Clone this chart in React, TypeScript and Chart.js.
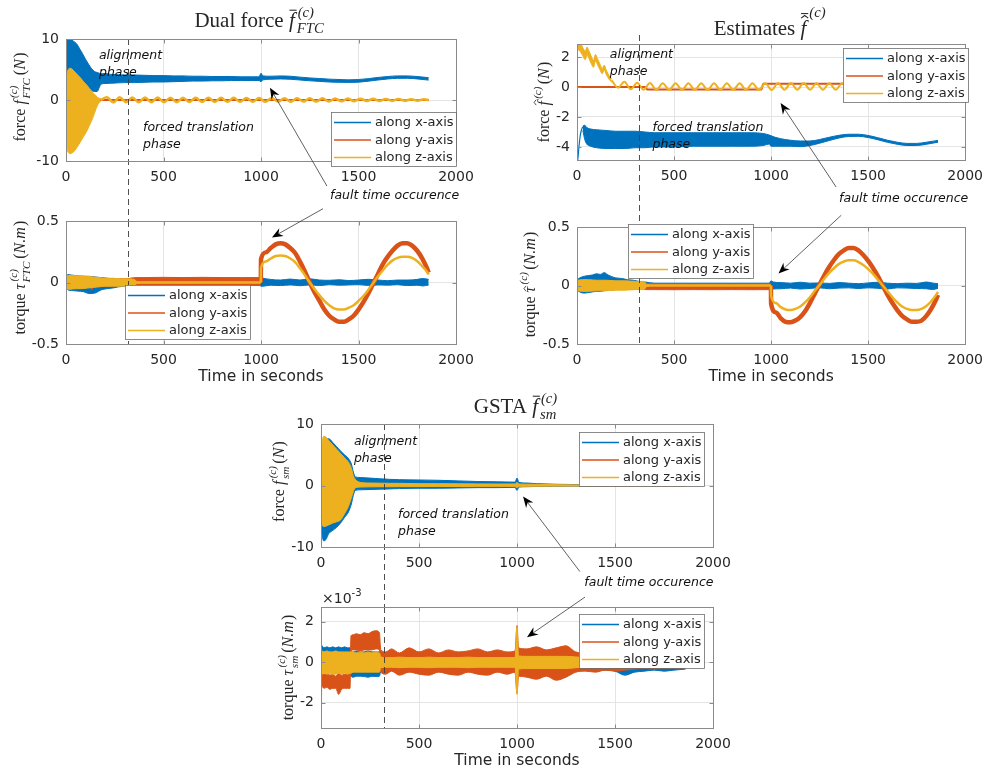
import React, { useEffect, useRef } from "react";
import { Chart, registerables } from "chart.js";

Chart.register(...registerables);

/* ---------------- colours, fonts, page ---------------- */
const BLUE = "#0072BD";
const ORANGE = "#D95319";
const YELLOW = "#EDB120";
const AXIS = "#8a8a8a";
const GRID = "#e4e4e4";
const TEXT = "#262626";
const PAGE_W = 991;
const PAGE_H = 776;
const SANS = '"DejaVu Sans", sans-serif';
const SERIF = '"Liberation Serif", "DejaVu Serif", serif';
const Y_AXIS_W = 45;
const X_AXIS_H = 24;

/* ---------------- shared axis values ---------------- */
const TIME_MIN = 0;
const TIME_MAX = 2000;
const TIME_STEP = 500;
const PHASE_SWITCH_TIME = 320; // end of the alignment phase (s)
const LEGEND_LABELS = ["along x-axis", "along y-axis", "along z-axis"];

/* ---------------- Dual force f_FTC (N) ---------------- */
const ftcForceXTime = [0, 8, 15, 25, 40, 55, 70, 85, 100, 115, 130, 145, 160, 170, 180, 200, 230, 260, 300, 350, 400, 450, 500, 550, 600, 650, 700, 750, 800, 850, 900, 950, 990, 1000, 1010, 1050, 1100, 1150, 1200, 1250, 1300, 1350, 1400, 1450, 1500, 1550, 1600, 1650, 1700, 1750, 1800, 1860];
const ftcForceXHigh = [9.0, 10.5, 10.3, 10.0, 9.6, 9.2, 8.4, 7.6, 6.7, 5.9, 5.2, 4.7, 4.5, 4.4, 4.3, 4.35, 4.2, 4.15, 4.1, 4.1, 4.05, 4.0, 4.0, 3.95, 3.95, 3.9, 3.9, 3.85, 3.85, 3.85, 3.8, 3.8, 3.8, 4.4, 3.95, 3.9, 3.95, 3.9, 3.75, 3.62, 3.52, 3.42, 3.36, 3.3, 3.36, 3.5, 3.7, 3.85, 3.95, 3.95, 3.85, 3.66];
const ftcForceXLow = [1.8, 1.6, 1.5, 1.5, 1.5, 1.5, 1.5, 1.5, 1.5, 1.5, 1.5, 1.4, 1.4, 2.0, 2.6, 2.7, 2.75, 2.8, 2.85, 2.85, 2.9, 2.95, 2.95, 3.0, 3.05, 3.1, 3.1, 3.15, 3.15, 3.2, 3.2, 3.2, 3.2, 3.0, 3.3, 3.4, 3.45, 3.4, 3.28, 3.15, 3.05, 2.95, 2.9, 2.88, 2.92, 3.08, 3.28, 3.45, 3.55, 3.56, 3.46, 3.26];
const ftcForceYTime = [0, 1860];
const ftcForceYValue = [0, 0];
const ftcForceZTime = [0, 5, 12, 20, 30, 45, 60, 75, 90, 105, 120, 135, 150, 160, 170, 178];
const ftcForceZHigh = [0.5, 4.0, 5.0, 5.2, 5.1, 4.6, 4.1, 3.6, 3.0, 2.5, 1.9, 1.3, 0.8, 0.5, 0.3, 0.3];
const ftcForceZLow = [-0.5, -7.5, -8.6, -8.8, -8.7, -8.3, -7.6, -6.8, -6.0, -5.2, -4.2, -3.1, -1.8, -1.0, -0.4, -0.3];
const ftcForceZWaveTime = [178, 210, 243, 275, 308, 340, 373, 405, 438, 470, 503, 535, 568, 600, 633, 665, 698, 730, 763, 795, 828, 860, 893, 925, 958, 990, 1023, 1055, 1088, 1120, 1153, 1185, 1218, 1250, 1283, 1315, 1348, 1380, 1413, 1445, 1478, 1510, 1543, 1575, 1608, 1640, 1673, 1705, 1738, 1770, 1803, 1835, 1860];
const ftcForceZWave = [0.0, 0.45, -0.4, 0.45, -0.35, 0.42, -0.35, 0.4, -0.35, 0.4, -0.35, 0.38, -0.35, 0.38, -0.32, 0.36, -0.32, 0.36, -0.32, 0.35, -0.3, 0.35, -0.3, 0.34, -0.3, 0.32, -0.3, 0.32, -0.28, 0.3, -0.28, 0.3, -0.26, 0.28, -0.25, 0.27, -0.24, 0.25, -0.22, 0.24, -0.2, 0.22, -0.18, 0.2, -0.16, 0.18, -0.15, 0.16, -0.14, 0.14, -0.12, 0.12, 0.0];

/* ---------------- torque after the fault: shared sample times (s) ---------------- */
const faultTime = [999, 1000, 1025, 1050, 1075, 1100, 1125, 1150, 1175, 1200, 1225, 1250, 1275, 1300, 1325, 1350, 1375, 1400, 1425, 1450, 1475, 1500, 1525, 1550, 1575, 1600, 1625, 1650, 1675, 1700, 1725, 1750, 1775, 1800, 1825, 1850, 1860];

/* ---------------- Dual torque tau_FTC (N.m) ---------------- */
const ftcTorqueXTime = [0, 10, 30, 60, 90, 120, 150, 180, 210, 240, 270, 300, 330, 360, 400, 500, 600, 700, 800, 900, 990, 1000, 1010, 1050, 1100, 1150, 1200, 1250, 1300, 1350, 1400, 1450, 1500, 1550, 1600, 1650, 1700, 1750, 1800, 1830, 1860];
const ftcTorqueXHigh = [0.05, 0.065, 0.06, 0.055, 0.05, 0.05, 0.045, 0.04, 0.035, 0.03, 0.03, 0.025, 0.02, 0.02, 0.02, 0.02, 0.02, 0.02, 0.02, 0.02, 0.02, 0.04, 0.035, 0.025, 0.02, 0.028, 0.02, 0.03, 0.02, 0.018, 0.022, 0.016, 0.02, 0.026, 0.02, 0.015, 0.02, 0.02, 0.025, 0.032, 0.025];
const ftcTorqueXLow = [-0.04, -0.06, -0.065, -0.07, -0.075, -0.09, -0.085, -0.06, -0.05, -0.045, -0.035, -0.03, -0.025, -0.02, -0.02, -0.02, -0.02, -0.02, -0.02, -0.02, -0.02, -0.03, -0.03, -0.022, -0.025, -0.02, -0.026, -0.02, -0.025, -0.018, -0.022, -0.02, -0.018, -0.024, -0.02, -0.022, -0.018, -0.025, -0.022, -0.028, -0.02];
const ftcTorqueYTime = [0, 50, 100, 125, 132, 140, 200, 300, 360, 400, 500, 600, 700, 800, 900, 999];
const ftcTorqueYHigh = [0.03, 0.03, 0.03, 0.03, 0.03, 0.03, 0.03, 0.03, 0.04, 0.04, 0.042, 0.04, 0.042, 0.04, 0.04, 0.04];
const ftcTorqueYLow = [-0.03, -0.03, -0.03, -0.03, -0.06, -0.03, -0.03, -0.025, -0.025, -0.025, -0.024, -0.025, -0.024, -0.025, -0.024, -0.024];
const ftcTorqueYFault = [0.0, 0.19, 0.245, 0.28, 0.31, 0.32, 0.31, 0.28, 0.24, 0.17, 0.09, 0.0, -0.08, -0.15, -0.22, -0.27, -0.3, -0.32, -0.32, -0.3, -0.27, -0.22, -0.16, -0.09, -0.01, 0.07, 0.15, 0.21, 0.26, 0.3, 0.32, 0.32, 0.3, 0.26, 0.2, 0.12, 0.08];
const ftcTorqueZTime = [0, 20, 50, 80, 110, 140, 170, 200, 240, 280, 320, 350, 365, 400, 600, 800, 999];
const ftcTorqueZHigh = [0.05, 0.06, 0.055, 0.055, 0.05, 0.045, 0.04, 0.035, 0.035, 0.03, 0.03, 0.025, 0.008, 0.006, 0.006, 0.006, 0.006];
const ftcTorqueZLow = [-0.05, -0.055, -0.05, -0.05, -0.045, -0.04, -0.035, -0.03, -0.03, -0.03, -0.028, -0.025, -0.008, -0.006, -0.006, -0.006, -0.006];
const ftcTorqueZFault = [0.0, 0.12, 0.17, 0.195, 0.215, 0.22, 0.215, 0.195, 0.165, 0.115, 0.06, 0.0, -0.055, -0.105, -0.15, -0.185, -0.21, -0.22, -0.22, -0.205, -0.185, -0.15, -0.11, -0.06, -0.005, 0.05, 0.1, 0.145, 0.18, 0.2, 0.21, 0.21, 0.2, 0.175, 0.135, 0.09, 0.065];

/* ---------------- Estimated force f^ (N) ---------------- */
const estForceXDropTime = [0, 1, 3, 6, 10, 15, 22, 30];
const estForceXDrop = [0, -2.5, -4.9, -4.6, -4.0, -3.4, -2.9, -2.65];
const estForceXTime = [30, 40, 50, 70, 100, 150, 200, 250, 300, 350, 400, 500, 600, 700, 800, 900, 960, 990, 1000, 1020, 1050, 1100, 1150, 1200, 1250, 1300, 1350, 1400, 1450, 1500, 1550, 1600, 1650, 1700, 1750, 1800, 1860];
const estForceXHigh = [-2.6, -2.55, -2.7, -2.8, -2.85, -2.9, -2.95, -2.95, -2.95, -3.0, -3.05, -3.05, -3.05, -3.05, -3.05, -3.05, -3.1, -3.2, -3.25, -3.35, -3.45, -3.55, -3.6, -3.6, -3.5, -3.35, -3.22, -3.15, -3.15, -3.23, -3.38, -3.55, -3.68, -3.76, -3.76, -3.68, -3.56];
const estForceXLow = [-2.9, -3.5, -3.8, -3.95, -4.05, -4.1, -4.1, -4.1, -4.05, -4.05, -4.0, -4.0, -3.95, -3.95, -3.95, -3.95, -3.9, -3.8, -3.95, -3.95, -3.95, -3.95, -3.98, -3.9, -3.75, -3.57, -3.4, -3.3, -3.29, -3.37, -3.52, -3.69, -3.82, -3.9, -3.9, -3.82, -3.68];
const estForceYTime = [0, 352, 362, 950, 960, 1860];
const estForceY = [0, 0, -0.17, -0.17, 0.22, 0.22];
const estForceZTime = [0, 3, 10, 20, 30, 42, 52, 60, 72, 85, 95, 105, 118, 130, 140, 150, 160, 170, 178];
const estForceZHigh = [2.9, 3.1, 3.05, 2.9, 2.62, 2.38, 2.66, 2.45, 2.1, 1.78, 2.17, 1.9, 1.54, 1.22, 1.46, 1.15, 0.88, 0.67, 0.55];
const estForceZLow = [0.0, 2.5, 2.45, 2.3, 2.08, 1.82, 2.14, 1.95, 1.6, 1.32, 1.73, 1.5, 1.16, 0.88, 1.14, 0.85, 0.62, 0.43, 0.35];
const estForceZWaveTime = [178, 211, 244, 277, 310, 343, 376, 409, 442, 475, 508, 541, 574, 607, 640, 673, 706, 739, 772, 805, 838, 871, 904, 937, 970, 1003, 1036, 1069, 1102, 1135, 1168, 1201, 1234, 1267, 1300, 1333, 1366, 1399, 1432, 1465, 1498, 1531, 1564, 1597, 1630, 1663, 1696, 1729, 1762, 1795, 1828, 1860];
const estForceZWave = [0.45, -0.05, 0.35, -0.15, 0.28, -0.18, 0.26, -0.2, 0.25, -0.2, 0.25, -0.2, 0.25, -0.2, 0.25, -0.2, 0.25, -0.2, 0.25, -0.2, 0.25, -0.2, 0.25, -0.2, 0.25, -0.2, 0.26, -0.18, 0.26, -0.18, 0.26, -0.18, 0.25, -0.18, 0.25, -0.18, 0.25, -0.18, 0.24, -0.18, 0.24, -0.18, 0.24, -0.18, 0.24, -0.18, 0.24, -0.18, 0.24, -0.18, 0.24, -0.18];

/* ---------------- Estimated torque tau^ (N.m) ---------------- */
const estTorqueXTime = [0, 20, 40, 60, 80, 100, 120, 140, 160, 180, 200, 230, 260, 290, 320, 350, 400, 500, 600, 700, 800, 900, 990, 1000, 1010, 1050, 1100, 1150, 1200, 1250, 1300, 1350, 1400, 1450, 1500, 1550, 1600, 1650, 1700, 1750, 1800, 1830, 1860];
const estTorqueXHigh = [0.05, 0.07, 0.08, 0.085, 0.09, 0.1, 0.095, 0.11, 0.09, 0.075, 0.065, 0.06, 0.05, 0.045, 0.035, 0.03, 0.02, 0.02, 0.02, 0.02, 0.02, 0.02, 0.02, 0.04, 0.03, 0.025, 0.02, 0.028, 0.02, 0.022, 0.018, 0.025, 0.02, 0.016, 0.022, 0.028, 0.02, 0.016, 0.02, 0.018, 0.03, 0.022, 0.015];
const estTorqueXLow = [-0.04, -0.06, -0.065, -0.06, -0.055, -0.05, -0.05, -0.045, -0.04, -0.04, -0.035, -0.035, -0.03, -0.03, -0.025, -0.025, -0.02, -0.02, -0.02, -0.02, -0.02, -0.02, -0.02, -0.035, -0.03, -0.028, -0.022, -0.03, -0.025, -0.02, -0.028, -0.022, -0.02, -0.026, -0.02, -0.024, -0.03, -0.02, -0.022, -0.026, -0.028, -0.034, -0.025];
const estTorqueYTime = [0, 100, 200, 300, 360, 400, 500, 600, 700, 800, 900, 999];
const estTorqueYHigh = [0.03, 0.03, 0.03, 0.025, 0.018, 0.015, 0.016, 0.015, 0.016, 0.015, 0.016, 0.015];
const estTorqueYLow = [-0.03, -0.03, -0.03, -0.03, -0.035, -0.035, -0.036, -0.035, -0.036, -0.035, -0.036, -0.035];
const estTorqueYFault = [0.0, -0.155, -0.23, -0.28, -0.31, -0.315, -0.3, -0.27, -0.22, -0.15, -0.07, 0.01, 0.09, 0.16, 0.22, 0.27, 0.3, 0.32, 0.32, 0.3, 0.26, 0.21, 0.15, 0.08, 0.0, -0.08, -0.15, -0.21, -0.26, -0.29, -0.31, -0.31, -0.3, -0.26, -0.2, -0.12, -0.08];
const estTorqueZTime = [0, 30, 60, 100, 150, 200, 250, 300, 345, 360, 400, 600, 800, 999];
const estTorqueZHigh = [0.045, 0.05, 0.05, 0.045, 0.045, 0.04, 0.04, 0.035, 0.035, 0.008, 0.006, 0.006, 0.006, 0.006];
const estTorqueZLow = [-0.045, -0.05, -0.05, -0.045, -0.045, -0.04, -0.04, -0.035, -0.035, -0.008, -0.006, -0.006, -0.006, -0.006];
const estTorqueZFault = [0.0, -0.09, -0.15, -0.185, -0.205, -0.21, -0.2, -0.18, -0.145, -0.1, -0.045, 0.005, 0.06, 0.11, 0.15, 0.185, 0.205, 0.215, 0.215, 0.2, 0.175, 0.14, 0.1, 0.05, 0.0, -0.05, -0.1, -0.145, -0.18, -0.2, -0.21, -0.21, -0.2, -0.175, -0.135, -0.08, -0.055];

/* ---------------- GSTA force f_sm (N) ---------------- */
const gstaForceTime = [0, 3, 8, 15, 25, 40, 60, 80, 100, 120, 140, 155, 165, 175, 200, 250, 300, 350, 400, 500, 600, 700, 800, 900, 990, 1000, 1010, 1050, 1100, 1200, 1300, 1400, 1500, 1600, 1700, 1860];
const gstaForceXHigh = [3.0, 6.0, 6.7, 7.0, 7.6, 7.6, 7.0, 6.3, 5.6, 5.0, 4.4, 3.5, 2.2, 1.4, 1.3, 1.2, 1.1, 1.0, 0.95, 0.9, 0.85, 0.75, 0.65, 0.6, 0.55, 1.2, 0.5, 0.4, 0.3, 0.2, 0.15, 0.1, 0.08, 0.06, 0.05, 0.04];
const gstaForceXLow = [0.0, -6.0, -8.5, -9.0, -8.8, -7.8, -7.3, -6.8, -6.1, -5.2, -4.3, -3.0, -1.6, -0.8, -0.7, -0.65, -0.6, -0.55, -0.5, -0.45, -0.45, -0.4, -0.35, -0.35, -0.3, -0.8, -0.25, -0.2, -0.15, -0.12, -0.1, -0.08, -0.06, -0.05, -0.04, -0.03];
const gstaForceYTime = [0, 1860];
const gstaForceY = [0, 0];
const gstaForceZHigh = [2.0, 5.5, 7.5, 8.0, 7.9, 7.3, 6.6, 5.9, 5.2, 4.5, 3.8, 2.8, 1.6, 1.0, 0.5, 0.4, 0.38, 0.35, 0.35, 0.3, 0.3, 0.28, 0.26, 0.25, 0.25, 0.5, 0.25, 0.22, 0.18, 0.14, 0.1, 0.08, 0.06, 0.05, 0.04, 0.03];
const gstaForceZLow = [-2.0, -5.0, -6.5, -6.7, -6.6, -6.4, -6.1, -5.9, -5.6, -4.6, -3.4, -2.0, -1.0, -0.4, -0.25, -0.22, -0.2, -0.2, -0.18, -0.18, -0.16, -0.16, -0.14, -0.14, -0.14, -0.4, -0.14, -0.13, -0.11, -0.1, -0.08, -0.06, -0.05, -0.04, -0.03, -0.03];

/* ---------------- GSTA torque tau_sm (values in 10^-3 N.m) ---------------- */
const GSTA_TORQUE_UNIT = 1e-3;
const gstaTorqueTime = [0, 2, 5, 15, 30, 45, 60, 75, 90, 105, 120, 135, 148, 153, 165, 180, 200, 220, 240, 260, 280, 298, 305, 330, 360, 400, 450, 500, 550, 600, 650, 700, 750, 800, 850, 900, 950, 990, 1000, 1008, 1050, 1100, 1150, 1200, 1250, 1300, 1350, 1400, 1450, 1500, 1550, 1600, 1650, 1700, 1750, 1800, 1860];
const gstaTorqueXHigh = [0.7, 0.75, 0.8, 0.7, 0.75, 0.7, 0.75, 0.7, 0.75, 0.7, 0.75, 0.7, 0.7, 0.55, 0.5, 0.55, 0.5, 0.5, 0.55, 0.5, 0.5, 0.5, 0.45, 0.4, 0.4, 0.4, 0.4, 0.4, 0.4, 0.4, 0.4, 0.4, 0.4, 0.4, 0.4, 0.4, 0.4, 0.4, 0.5, 0.4, 0.4, 0.4, 0.4, 0.4, 0.4, 0.35, 0.3, 0.3, 0.3, 0.3, 0.3, 0.25, 0.25, 0.25, 0.25, 0.25, 0.25];
const gstaTorqueXLow = [-0.5, -0.5, -0.5, -0.5, -0.5, -0.5, -0.5, -0.5, -0.5, -0.5, -0.5, -0.5, -0.5, -0.7, -0.75, -0.7, -0.7, -0.72, -0.75, -0.7, -0.72, -0.7, -0.45, -0.4, -0.4, -0.4, -0.4, -0.4, -0.4, -0.4, -0.4, -0.4, -0.4, -0.4, -0.4, -0.4, -0.4, -0.4, -0.5, -0.4, -0.4, -0.4, -0.4, -0.4, -0.4, -0.4, -0.4, -0.4, -0.4, -0.45, -0.65, -0.5, -0.45, -0.4, -0.45, -0.4, -0.35];
const gstaTorqueYSpikeTime = [0, 0.5, 1.5, 3, 5];
const gstaTorqueYSpike = [0, 2.72, -3.26, -0.6, -1.0];
const gstaTorqueYHigh = [-0.5, -0.5, -0.55, -0.6, -0.5, -0.65, -0.6, -0.7, -0.55, -0.65, -0.6, -0.55, -0.6, 1.3, 1.35, 1.4, 1.35, 1.45, 1.4, 1.5, 1.55, 1.45, 0.6, 0.5, 0.65, 0.45, 0.7, 0.5, 0.65, 0.45, 0.6, 0.5, 0.55, 0.65, 0.5, 0.6, 0.5, 0.55, 1.8, 0.7, 0.65, 0.75, 0.6, 0.7, 0.8, 0.5, 0.45, 0.55, 0.4, 0.45, 0.4, 0.35, 0.4, 0.35, 0.3, 0.35, 0.3];
const gstaTorqueYLow = [-1.2, -1.3, -1.2, -1.3, -1.25, -1.35, -1.3, -1.3, -1.6, -1.35, -1.3, -1.3, -1.3, 0.55, 0.6, 0.6, 0.55, 0.6, 0.6, 0.6, 0.65, 0.6, -0.5, -0.6, -0.45, -0.65, -0.5, -0.6, -0.65, -0.5, -0.6, -0.65, -0.5, -0.6, -0.65, -0.5, -0.6, -0.5, -1.55, -0.7, -0.75, -0.85, -0.7, -0.9, -0.75, -0.5, -0.45, -0.5, -0.4, -0.45, -0.4, -0.35, -0.3, -0.35, -0.3, -0.3, -0.3];
const gstaTorqueZHigh = [0.5, 0.5, 0.55, 0.5, 0.55, 0.5, 0.5, 0.55, 0.5, 0.5, 0.5, 0.5, 0.5, 0.5, 0.5, 0.45, 0.5, 0.45, 0.5, 0.45, 0.5, 0.45, 0.25, 0.22, 0.22, 0.24, 0.22, 0.22, 0.24, 0.22, 0.22, 0.22, 0.24, 0.22, 0.22, 0.22, 0.22, 0.22, 1.75, 0.3, 0.28, 0.28, 0.28, 0.28, 0.28, 0.25, 0.22, 0.22, 0.22, 0.22, 0.2, 0.2, 0.2, 0.2, 0.2, 0.2, 0.2];
const gstaTorqueZLow = [-0.6, -0.6, -0.6, -0.55, -0.6, -0.55, -0.6, -0.6, -0.55, -0.6, -0.55, -0.6, -0.55, -0.55, -0.5, -0.5, -0.5, -0.5, -0.5, -0.5, -0.5, -0.5, -0.28, -0.26, -0.26, -0.28, -0.26, -0.26, -0.28, -0.26, -0.26, -0.26, -0.28, -0.26, -0.26, -0.26, -0.26, -0.26, -1.6, -0.35, -0.32, -0.32, -0.32, -0.32, -0.32, -0.28, -0.25, -0.25, -0.25, -0.25, -0.24, -0.22, -0.22, -0.22, -0.22, -0.22, -0.22];

/* ---------------- series model ---------------- */
type Band = { kind: "band"; t: number[]; hi: number[]; lo: number[] };
type Trace = { kind: "line"; t: number[]; v: number[]; width: number };
type Seg = Band | Trace;
type Series = { color: string; layer: number; segs: Seg[] };

const band = (t: number[], hi: number[], lo: number[]): Band => ({ kind: "band", t, hi, lo });
const trace = (t: number[], v: number[], width: number): Trace => ({ kind: "line", t, v, width });

type Piece =
  | { s: string; it?: boolean; acc?: "bar" | "hat" | "barhat"; accY?: number }
  | { sup: string; sub?: string; raise?: number };

type PanelSpec = {
  area: { left: number; top: number; right: number; bottom: number };
  yMin: number;
  yMax: number;
  yStep: number;
  unit?: number;
  series: Series[];
  title?: { pieces: Piece[]; size: number; gap: number };
  yLabel: { pieces: Piece[]; dx: number; dy: number };
  xTitle?: boolean;
  exponent?: string;
  legend: { dx: number; dy: number };
  notes: { t: number; v: number; lines: string[] }[];
  arrows: { from: [number, number]; to: [number, number] }[];
  fault?: { t: number; v: number };
  dashAbove: number;
  dashBelow: number;
};

/* ---------------- rich (math-like) text ---------------- */
function serifFont(size: number, italic = false) {
  return `${italic ? "italic " : ""}${size}px ${SERIF}`;
}

function drawAccent(ctx: CanvasRenderingContext2D, kind: string, x: number, y: number, w: number, size: number, accY: number) {
  const mid = x + w * 0.55;
  const half = size * 0.17;
  ctx.lineWidth = Math.max(0.8, size * 0.05);
  let top = y - size * accY;
  if (kind === "hat" || kind === "barhat") {
    ctx.beginPath();
    ctx.moveTo(mid - half, top);
    ctx.lineTo(mid, top - size * 0.13);
    ctx.lineTo(mid + half, top);
    ctx.stroke();
    top -= size * 0.22;
  }
  if (kind === "bar" || kind === "barhat") {
    ctx.beginPath();
    ctx.moveTo(mid - half, top);
    ctx.lineTo(mid + half, top);
    ctx.stroke();
  }
}

function drawRich(ctx: CanvasRenderingContext2D, pieces: Piece[], size: number, x: number, y: number) {
  const small = size * 0.7;
  const widths = pieces.map((p) => {
    if ("s" in p) {
      ctx.font = serifFont(size, p.it);
      return ctx.measureText(p.s).width + (p.it ? size * 0.08 : 0);
    }
    ctx.font = serifFont(small, true);
    const w = Math.max(ctx.measureText(p.sup).width, p.sub ? ctx.measureText(p.sub).width : 0);
    return w + size * 0.2;
  });
  const total = widths.reduce((a, b) => a + b, 0);
  let cx = x - total / 2;
  ctx.fillStyle = TEXT;
  ctx.strokeStyle = TEXT;
  ctx.textAlign = "left";
  ctx.textBaseline = "alphabetic";
  pieces.forEach((p, i) => {
    if ("s" in p) {
      ctx.font = serifFont(size, p.it);
      ctx.fillText(p.s, cx, y);
      if (p.acc) drawAccent(ctx, p.acc, cx, y, widths[i], size, p.accY ?? 0.8);
    } else {
      ctx.font = serifFont(small, true);
      ctx.fillText(p.sup, cx + size * 0.06, y - size * (p.raise ?? 0.5));
      if (p.sub) ctx.fillText(p.sub, cx + size * 0.02, y + size * 0.3);
    }
    cx += widths[i];
  });
}

function drawArrow(ctx: CanvasRenderingContext2D, x1: number, y1: number, x2: number, y2: number) {
  const ang = Math.atan2(y2 - y1, x2 - x1);
  const c = Math.cos(ang);
  const s = Math.sin(ang);
  const len = 11;
  const half = 4.5;
  const notch = 7.5;
  ctx.strokeStyle = "#3a3a3a";
  ctx.lineWidth = 0.8;
  ctx.beginPath();
  ctx.moveTo(x1, y1);
  ctx.lineTo(x2 - notch * c, y2 - notch * s);
  ctx.stroke();
  const bx = x2 - len * c;
  const by = y2 - len * s;
  ctx.fillStyle = "#000";
  ctx.beginPath();
  ctx.moveTo(x2, y2);
  ctx.lineTo(bx - half * s, by + half * c);
  ctx.lineTo(x2 - notch * c, y2 - notch * s);
  ctx.lineTo(bx + half * s, by - half * c);
  ctx.closePath();
  ctx.fill();
}

/* ---------------- per-panel decorations ---------------- */
function decorPlugin(p: PanelSpec) {
  return {
    id: "panelDecor",
    afterDraw(chart: any) {
      const ctx: CanvasRenderingContext2D = chart.ctx;
      const a = chart.chartArea;
      const xs = chart.scales.x;
      const ys = chart.scales.y;
      const k = p.unit ?? 1;
      const px = (t: number) => xs.getPixelForValue(t);
      const py = (v: number) => ys.getPixelForValue(v * k);
      const L = Math.round(a.left) + 0.5;
      const R = Math.round(a.right) + 0.5;
      const T = Math.round(a.top) + 0.5;
      const B = Math.round(a.bottom) + 0.5;
      ctx.save();

      // phase switch marker
      const xd = Math.round(px(PHASE_SWITCH_TIME)) + 0.5;
      ctx.strokeStyle = "#3c3c3c";
      ctx.lineWidth = 0.9;
      ctx.setLineDash([6, 4]);
      ctx.beginPath();
      ctx.moveTo(xd, a.top - p.dashAbove);
      ctx.lineTo(xd, a.bottom + p.dashBelow);
      ctx.stroke();
      ctx.setLineDash([]);

      // axes box and inward tick marks
      ctx.strokeStyle = AXIS;
      ctx.lineWidth = 1;
      ctx.strokeRect(L, T, R - L, B - T);
      ctx.beginPath();
      for (const tk of xs.ticks) {
        const x = Math.round(xs.getPixelForValue(tk.value)) + 0.5;
        ctx.moveTo(x, B);
        ctx.lineTo(x, B - 4);
        ctx.moveTo(x, T);
        ctx.lineTo(x, T + 4);
      }
      for (const tk of ys.ticks) {
        const y = Math.round(ys.getPixelForValue(tk.value)) + 0.5;
        ctx.moveTo(L, y);
        ctx.lineTo(L + 4, y);
        ctx.moveTo(R, y);
        ctx.lineTo(R - 4, y);
      }
      ctx.stroke();

      // legend
      const lx = Math.round(a.left + p.legend.dx);
      const ly = Math.round(a.top + p.legend.dy);
      const lw = 125;
      const lh = 54;
      ctx.fillStyle = "#fff";
      ctx.fillRect(lx, ly, lw, lh);
      ctx.strokeStyle = "#6e6e6e";
      ctx.lineWidth = 0.8;
      ctx.strokeRect(lx + 0.5, ly + 0.5, lw, lh);
      ctx.font = `13px ${SANS}`;
      ctx.textAlign = "left";
      ctx.textBaseline = "middle";
      p.series.forEach((s, i) => {
        const ry = ly + 10.5 + i * 17.5;
        ctx.strokeStyle = s.color;
        ctx.lineWidth = 1.5;
        ctx.beginPath();
        ctx.moveTo(lx + 3, ry);
        ctx.lineTo(lx + 40, ry);
        ctx.stroke();
        ctx.fillStyle = TEXT;
        ctx.fillText(LEGEND_LABELS[i], lx + 44, ry + 0.5);
      });

      // phase notes
      ctx.font = `italic 12.5px ${SANS}`;
      ctx.fillStyle = "#111";
      ctx.textAlign = "left";
      ctx.textBaseline = "middle";
      for (const n of p.notes) {
        n.lines.forEach((line, i) => ctx.fillText(line, px(n.t), py(n.v) + i * 17));
      }

      // fault annotation
      if (p.fault) {
        ctx.textAlign = "center";
        ctx.fillText("fault time occurence", px(p.fault.t), py(p.fault.v));
      }
      for (const ar of p.arrows) {
        drawArrow(ctx, px(ar.from[0]), py(ar.from[1]), px(ar.to[0]), py(ar.to[1]));
      }

      // title
      if (p.title) {
        drawRich(ctx, p.title.pieces, p.title.size, (a.left + a.right) / 2, a.top - p.title.gap);
      }

      // y label
      ctx.save();
      ctx.translate(a.left + p.yLabel.dx, (a.top + a.bottom) / 2 + p.yLabel.dy);
      ctx.rotate(-Math.PI / 2);
      drawRich(ctx, p.yLabel.pieces, 16, 0, 0);
      ctx.restore();

      // x label
      if (p.xTitle) {
        ctx.font = `15.5px ${SANS}`;
        ctx.fillStyle = TEXT;
        ctx.textAlign = "center";
        ctx.textBaseline = "middle";
        ctx.fillText("Time in seconds", (a.left + a.right) / 2, a.bottom + 33);
      }

      // exponent of the tick values
      if (p.exponent) {
        ctx.fillStyle = TEXT;
        ctx.textAlign = "left";
        ctx.textBaseline = "alphabetic";
        ctx.font = `14px ${SANS}`;
        const base = "\u00d710";
        ctx.fillText(base, a.left + 1, a.top - 4);
        const bw = ctx.measureText(base).width;
        ctx.font = `10px ${SANS}`;
        ctx.fillText(p.exponent, a.left + 1 + bw, a.top - 11);
      }
      ctx.restore();
    },
  };
}

function buildDatasets(series: Series[], k: number) {
  const out: any[] = [];
  const pts = (t: number[], v: number[]) => t.map((x, i) => ({ x, y: v[i] * k }));
  for (const s of series) {
    for (const seg of s.segs) {
      if (seg.kind === "band") {
        out.push({ data: pts(seg.t, seg.lo), borderColor: s.color, borderWidth: 1, pointRadius: 0, fill: false, order: s.layer, cubicInterpolationMode: "monotone" });
        out.push({ data: pts(seg.t, seg.hi), borderColor: s.color, backgroundColor: s.color, borderWidth: 1, pointRadius: 0, fill: "-1", order: s.layer, cubicInterpolationMode: "monotone" });
      } else {
        out.push({ data: pts(seg.t, seg.v), borderColor: s.color, borderWidth: seg.width, pointRadius: 0, fill: false, order: s.layer, cubicInterpolationMode: "monotone" });
      }
    }
  }
  return out;
}

function makeConfig(p: PanelSpec): any {
  const k = p.unit ?? 1;
  const tickFont = { family: SANS, size: 14 };
  return {
    type: "line",
    data: { datasets: buildDatasets(p.series, k) },
    options: {
      responsive: false,
      animation: false,
      devicePixelRatio: 1,
      events: [],
      layout: {
        padding: {
          left: p.area.left - Y_AXIS_W,
          right: PAGE_W - p.area.right,
          top: p.area.top,
          bottom: PAGE_H - p.area.bottom - X_AXIS_H,
        },
      },
      plugins: { legend: { display: false }, tooltip: { enabled: false } },
      scales: {
        x: {
          type: "linear",
          min: TIME_MIN,
          max: TIME_MAX,
          afterFit: (s: any) => {
            s.height = X_AXIS_H;
          },
          ticks: {
            stepSize: TIME_STEP,
            autoSkip: false,
            maxRotation: 0,
            includeBounds: false,
            padding: 8,
            color: TEXT,
            font: tickFont,
            callback: (v: number) => String(v),
          },
          grid: { color: GRID, drawTicks: false, lineWidth: 1 },
          border: { display: false },
        },
        y: {
          type: "linear",
          min: p.yMin * k,
          max: p.yMax * k,
          afterFit: (s: any) => {
            s.width = Y_AXIS_W;
          },
          ticks: {
            stepSize: p.yStep * k,
            autoSkip: false,
            includeBounds: false,
            padding: 7,
            color: TEXT,
            font: tickFont,
            callback: (v: number) => String(Math.round((v / k) * 1000) / 1000),
          },
          grid: { color: GRID, drawTicks: false, lineWidth: 1 },
          border: { display: false },
        },
      },
    },
    plugins: [decorPlugin(p)],
  };
}

/* ---------------- panels ---------------- */
const xyz = (x: Seg[], y: Seg[], z: Seg[]): Series[] => [
  { color: BLUE, layer: 2, segs: x },
  { color: ORANGE, layer: 1, segs: y },
  { color: YELLOW, layer: 0, segs: z },
];

const PANELS: PanelSpec[] = [
  {
    area: { left: 66, top: 39, right: 456, bottom: 161 },
    yMin: -10,
    yMax: 10,
    yStep: 10,
    series: xyz(
      [band(ftcForceXTime, ftcForceXHigh, ftcForceXLow)],
      [trace(ftcForceYTime, ftcForceYValue, 2)],
      [band(ftcForceZTime, ftcForceZHigh, ftcForceZLow), trace(ftcForceZWaveTime, ftcForceZWave, 2.5)]
    ),
    title: { pieces: [{ s: "Dual force " }, { s: "f", it: true, acc: "bar" }, { sup: "(c)", sub: "FTC" }], size: 21, gap: 12 },
    yLabel: { pieces: [{ s: "force " }, { s: "f", it: true }, { sup: "(c)", sub: "FTC" }, { s: "(" }, { s: "N", it: true }, { s: ")" }], dx: -41, dy: -3 },
    legend: { dx: 264.5, dy: 72.5 },
    notes: [
      { t: 169, v: 7.2, lines: ["alignment", "phase"] },
      { t: 395, v: -4.6, lines: ["forced translation", "phase"] },
    ],
    arrows: [{ from: [1338, -14.1], to: [1046, 2.0] }],
    fault: { t: 1685, v: -15.7 },
    dashAbove: 0,
    dashBelow: 60,
  },
  {
    area: { left: 66, top: 221, right: 456, bottom: 344 },
    yMin: -0.5,
    yMax: 0.5,
    yStep: 0.5,
    series: xyz(
      [band(ftcTorqueXTime, ftcTorqueXHigh, ftcTorqueXLow)],
      [band(ftcTorqueYTime, ftcTorqueYHigh, ftcTorqueYLow), trace(faultTime, ftcTorqueYFault, 4.5)],
      [band(ftcTorqueZTime, ftcTorqueZHigh, ftcTorqueZLow), trace(faultTime, ftcTorqueZFault, 2.5)]
    ),
    yLabel: { pieces: [{ s: "torque " }, { s: "\u03c4", it: true }, { sup: "(c)", sub: "FTC" }, { s: "(" }, { s: "N.m", it: true }, { s: ")" }], dx: -41, dy: -5 },
    xTitle: true,
    legend: { dx: 59, dy: 64 },
    notes: [],
    arrows: [{ from: [1318, 0.6], to: [1056, 0.366] }],
    dashAbove: 0,
    dashBelow: 0,
  },
  {
    area: { left: 577, top: 44, right: 968, bottom: 160 },
    yMin: -4.867,
    yMax: 2.867,
    yStep: 2,
    series: xyz(
      [trace(estForceXDropTime, estForceXDrop, 1.2), band(estForceXTime, estForceXHigh, estForceXLow)],
      [trace(estForceYTime, estForceY, 2)],
      [band(estForceZTime, estForceZHigh, estForceZLow), trace(estForceZWaveTime, estForceZWave, 2)]
    ),
    title: { pieces: [{ s: "Estimates " }, { s: "f", it: true, acc: "barhat" }, { sup: "(c)", raise: 0.85 }], size: 21, gap: 9 },
    yLabel: { pieces: [{ s: "force " }, { s: "f", it: true, acc: "hat" }, { sup: "(c)" }, { s: "(" }, { s: "N", it: true }, { s: ")" }], dx: -28, dy: 0 },
    legend: { dx: 266, dy: 4 },
    notes: [
      { t: 169, v: 2.13, lines: ["alignment", "phase"] },
      { t: 389, v: -2.73, lines: ["forced translation", "phase"] },
    ],
    arrows: [{ from: [1335, -6.67], to: [1049, -1.07] }],
    fault: { t: 1683, v: -7.47 },
    dashAbove: 9,
    dashBelow: 67,
  },
  {
    area: { left: 577, top: 227, right: 968, bottom: 344 },
    yMin: -0.5,
    yMax: 0.5,
    yStep: 0.5,
    series: xyz(
      [band(estTorqueXTime, estTorqueXHigh, estTorqueXLow)],
      [band(estTorqueYTime, estTorqueYHigh, estTorqueYLow), trace(faultTime, estTorqueYFault, 4.5)],
      [band(estTorqueZTime, estTorqueZHigh, estTorqueZLow), trace(faultTime, estTorqueZFault, 2.5)]
    ),
    yLabel: { pieces: [{ s: "torque " }, { s: "\u03c4", it: true, acc: "hat", accY: 0.56 }, { sup: "(c)" }, { s: "(" }, { s: "N.m", it: true }, { s: ")" }], dx: -42, dy: -1 },
    xTitle: true,
    legend: { dx: 51, dy: -3 },
    notes: [],
    arrows: [{ from: [1361, 0.6], to: [1038, 0.103] }],
    dashAbove: 0,
    dashBelow: 0,
  },
  {
    area: { left: 321, top: 424, right: 713, bottom: 547 },
    yMin: -10,
    yMax: 10,
    yStep: 10,
    series: xyz(
      [band(gstaForceTime, gstaForceXHigh, gstaForceXLow)],
      [trace(gstaForceYTime, gstaForceY, 1.5)],
      [band(gstaForceTime, gstaForceZHigh, gstaForceZLow)]
    ),
    title: { pieces: [{ s: "GSTA " }, { s: "f", it: true, acc: "bar" }, { sup: "(c)", sub: "sm" }], size: 21, gap: 11 },
    yLabel: { pieces: [{ s: "force " }, { s: "f", it: true }, { sup: "(c)", sub: "sm" }, { s: "(" }, { s: "N", it: true }, { s: ")" }], dx: -37, dy: -4 },
    legend: { dx: 258, dy: 8 },
    notes: [
      { t: 168, v: 7.15, lines: ["alignment", "phase"] },
      { t: 393, v: -4.7, lines: ["forced translation", "phase"] },
    ],
    arrows: [{ from: [1321, -14.0], to: [1031, -1.8] }],
    fault: { t: 1673, v: -15.8 },
    dashAbove: 0,
    dashBelow: 60,
  },
  {
    area: { left: 321, top: 607, right: 713, bottom: 728 },
    yMin: -3.26,
    yMax: 2.72,
    yStep: 2,
    unit: GSTA_TORQUE_UNIT,
    series: xyz(
      [band(gstaTorqueTime, gstaTorqueXHigh, gstaTorqueXLow)],
      [trace(gstaTorqueYSpikeTime, gstaTorqueYSpike, 1.2), band(gstaTorqueTime, gstaTorqueYHigh, gstaTorqueYLow)],
      [band(gstaTorqueTime, gstaTorqueZHigh, gstaTorqueZLow)]
    ),
    yLabel: { pieces: [{ s: "torque " }, { s: "\u03c4", it: true }, { sup: "(c)", sub: "sm" }, { s: "(" }, { s: "N.m", it: true }, { s: ")" }], dx: -28, dy: 0 },
    xTitle: true,
    exponent: "-3",
    legend: { dx: 258, dy: 7 },
    notes: [],
    arrows: [{ from: [1347, 3.21], to: [1051, 1.23] }],
    dashAbove: 0,
    dashBelow: 0,
  },
];

function PanelCanvas({ spec }: { spec: PanelSpec }) {
  const ref = useRef<HTMLCanvasElement>(null);
  useEffect(() => {
    if (!ref.current) return;
    const chart = new Chart(ref.current, makeConfig(spec));
    return () => chart.destroy();
  }, [spec]);
  return (
    <canvas
      ref={ref}
      width={PAGE_W}
      height={PAGE_H}
      style={{ position: "absolute", left: 0, top: 0, width: PAGE_W, height: PAGE_H }}
    />
  );
}

export default function App() {
  return (
    <div style={{ position: "fixed", left: 0, top: 0, width: PAGE_W, height: PAGE_H, background: "#fff", overflow: "hidden" }}>
      {PANELS.map((p, i) => (
        <PanelCanvas key={i} spec={p} />
      ))}
    </div>
  );
}
